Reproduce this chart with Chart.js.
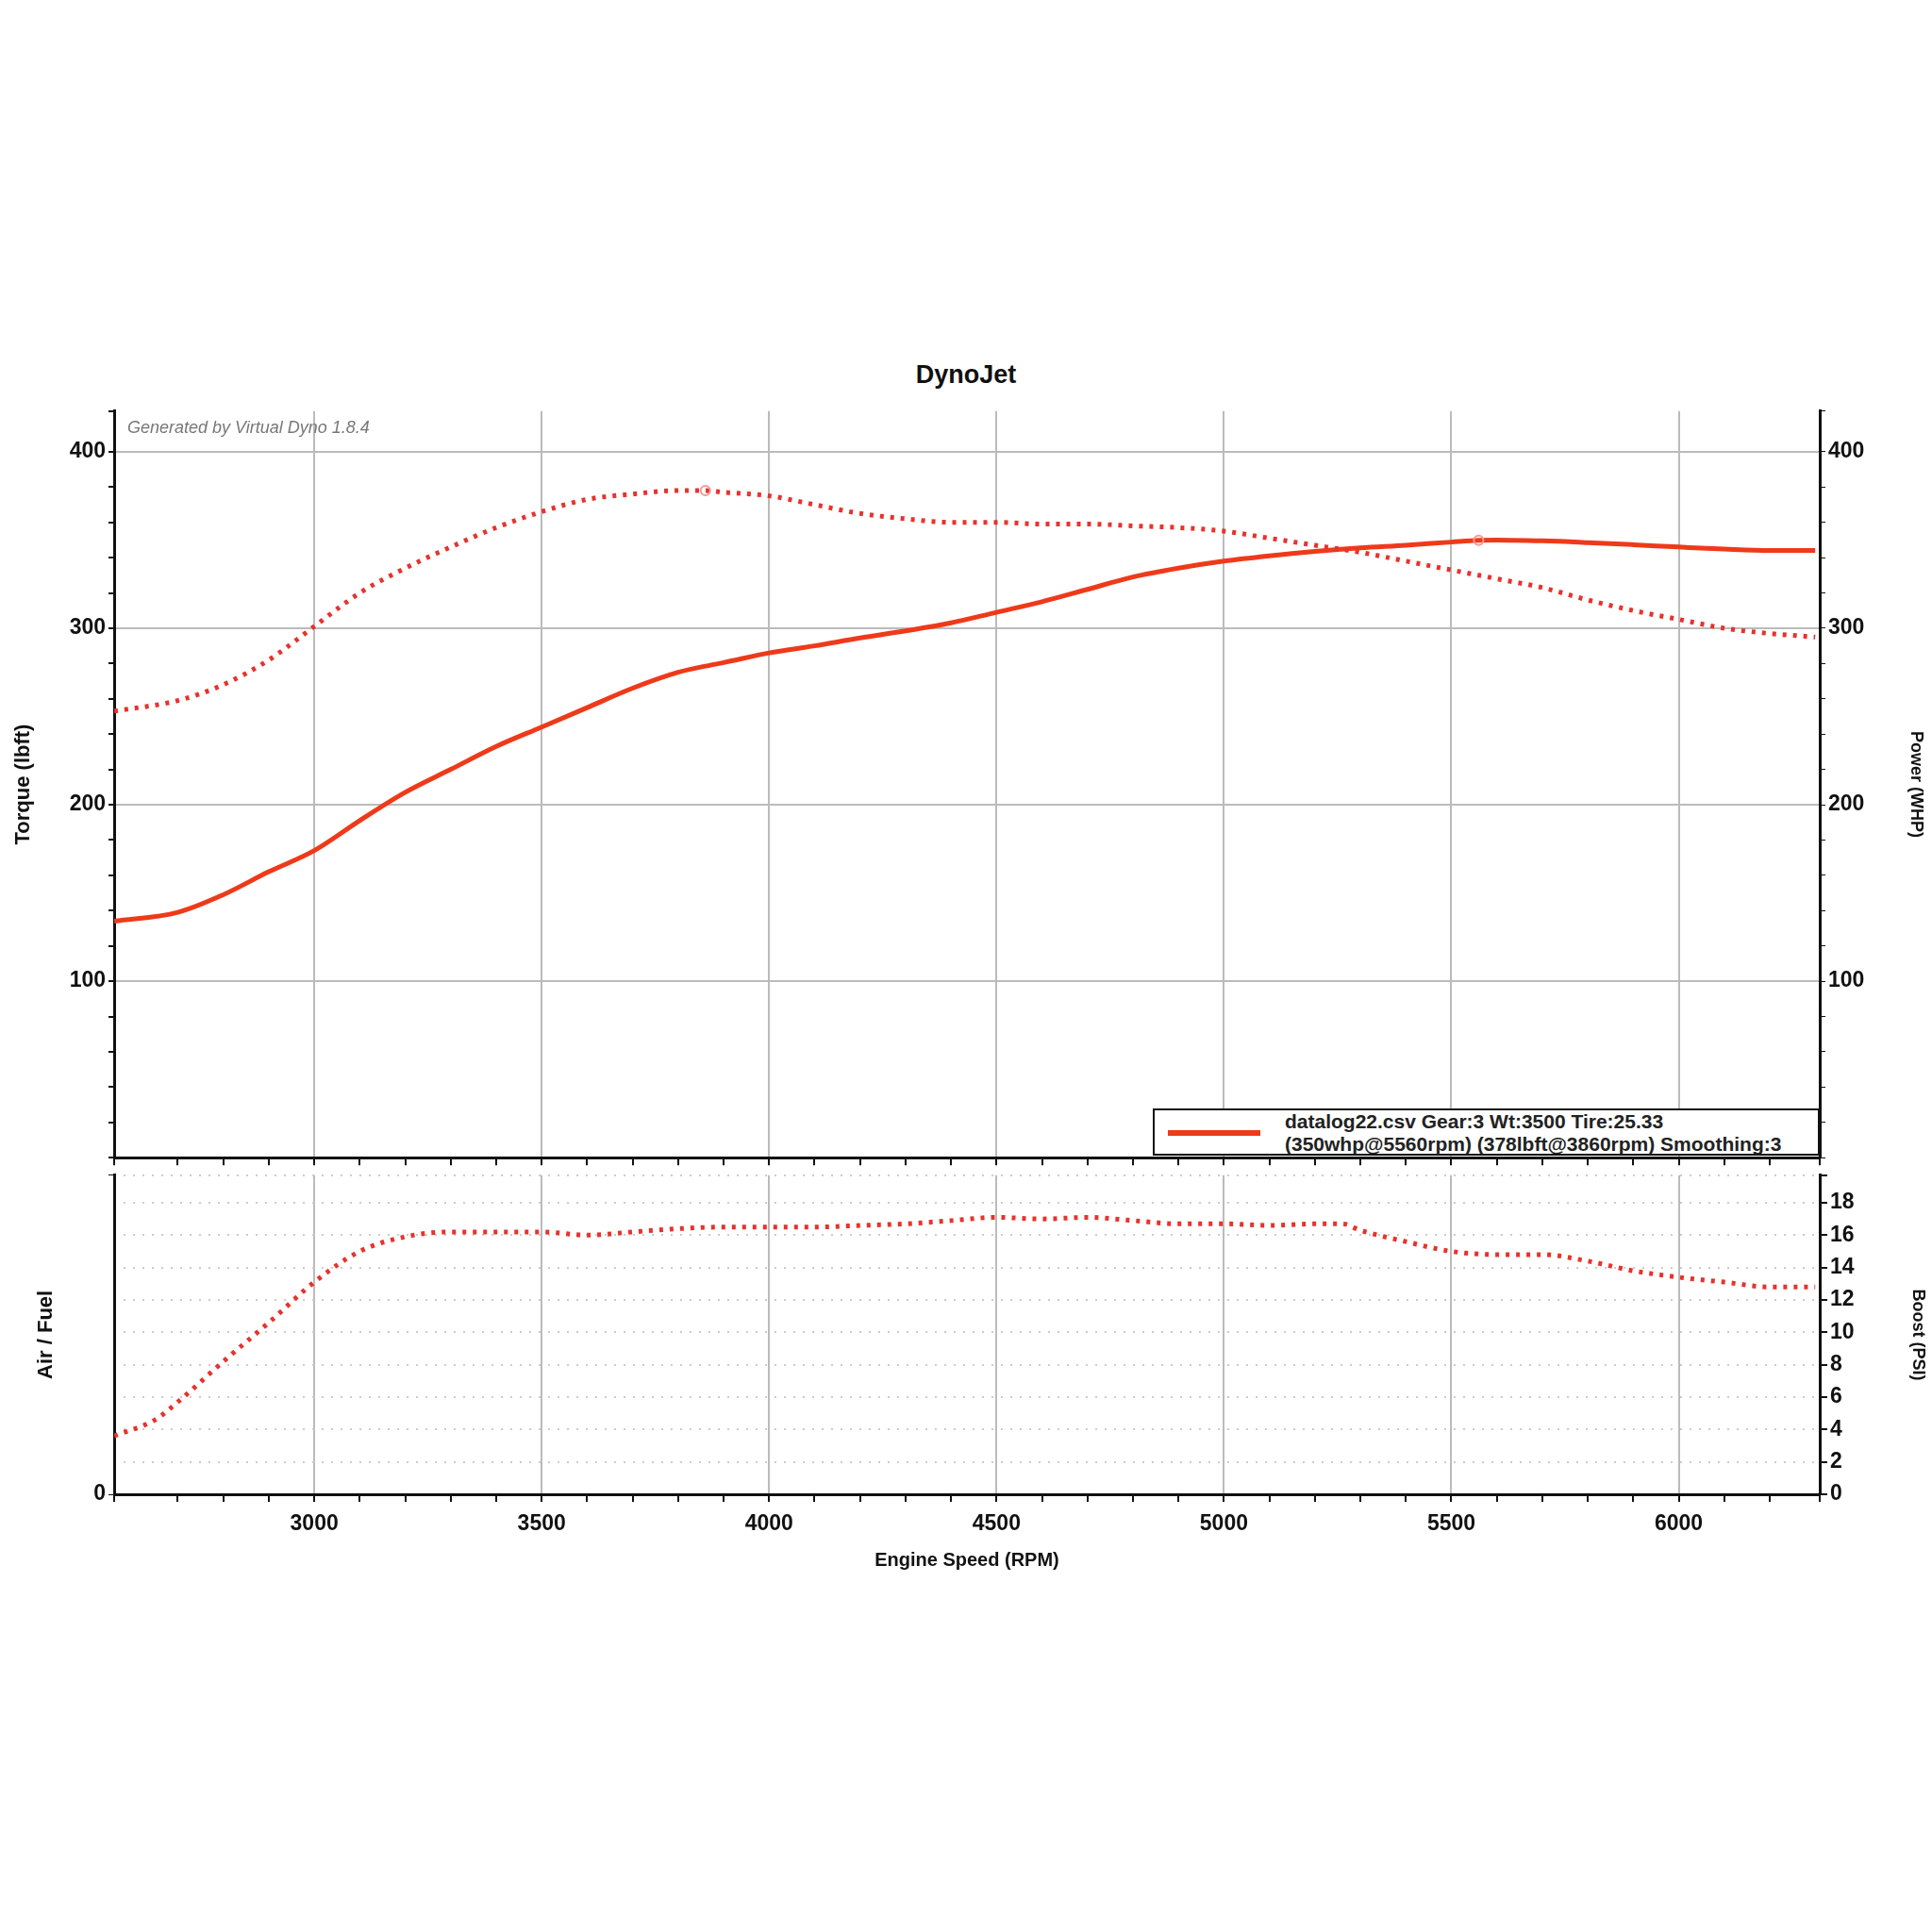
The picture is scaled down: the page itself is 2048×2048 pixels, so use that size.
<!DOCTYPE html>
<html><head><meta charset="utf-8">
<script src="https://cdn.jsdelivr.net/npm/chart.js@4.4.0/dist/chart.umd.min.js"></script>
<style>
body{margin:0;background:#fff;width:2048px;height:2048px;position:relative;font-family:"Liberation Sans",Arial,sans-serif;overflow:hidden}
canvas{position:absolute}
#title{position:absolute;top:382px;left:0;width:2048px;text-align:center;font-weight:bold;font-size:27px;color:#111}
#gen{position:absolute;left:135px;top:443px;font-style:italic;font-size:18px;color:#777}
#leg{position:absolute;left:1222px;top:1175px;width:707px;height:50px;border:2px solid #111;background:#fff;box-sizing:border-box}
#leg .ln{position:absolute;left:14px;top:21px;width:98px;height:6px;background:#ee3a1a}
#leg .tx{position:absolute;left:138px;top:0px;font-weight:bold;font-size:21px;line-height:24px;color:#222;white-space:nowrap}
</style></head><body>
<div id="title">DynoJet</div>
<canvas id="top" width="2048" height="825" style="left:0;top:419px;width:2048px;height:825px"></canvas>
<canvas id="bot" width="2048" height="441" style="left:0;top:1229px;width:2048px;height:441px"></canvas>
<div id="gen">Generated by Virtual Dyno 1.8.4</div>
<div id="leg"><div class="ln"></div><div class="tx">datalog22.csv Gear:3 Wt:3500 Tire:25.33<br>(350whp@5560rpm) (378lbft@3860rpm) Smoothing:3</div></div>
<script>
const rpm = [2560,2700,2800,2900,3000,3100,3200,3300,3400,3500,3600,3700,3800,3860,3900,4000,4100,4200,4300,4400,4500,4600,4700,4800,4900,5000,5100,5200,5300,5400,5500,5560,5600,5700,5800,5900,6000,6100,6200,6300];
const torque = [253,259,268,282,301,320,334,346,357,366,373,376,378,378,377,375,370,365,362,360,360,359,359,358,357,355,351,347,343,338,333,330,328,323,316,310,305,300,297,295];
const power = [134,139,149,162,174,191,207,220,233,244,255,266,275,278.5,280.5,286,290,294.5,298.5,303,309,315,322,329,334,338,341,343.5,345.5,347,348.8,349.8,350,349.5,348.5,347.3,346,344.8,344,344];
const boostRpm = [2560,2650,2700,2800,2900,3000,3100,3200,3300,3400,3500,3600,3700,3800,3900,4000,4100,4200,4300,4400,4500,4600,4700,4800,4900,5000,5100,5200,5260,5300,5400,5500,5600,5700,5800,5900,6000,6100,6200,6300];
const boost = [3.6,4.6,5.7,8.2,10.6,13.1,15.0,15.9,16.2,16.2,16.2,16.0,16.2,16.4,16.5,16.5,16.5,16.6,16.7,16.9,17.1,17.0,17.1,16.9,16.7,16.7,16.6,16.7,16.7,16.3,15.6,15.0,14.8,14.8,14.4,13.8,13.4,13.1,12.8,12.8];
const xTicks = [3000,3500,4000,4500,5000,5500,6000];
const peakTorqueRpm = 3860, peakPowerRpm = 5560;

const pts = (xs, ys) => xs.map((x,i)=>({x, y: ys[i]}));
const DPR = 1;
const tickFont = {family:'"Liberation Sans", Arial', size:23, weight:'bold'};
const xScaleBase = {
  type:'linear', min:2560, max:6310,
  ticks:{stepSize:100, autoSkip:false, maxRotation:0, padding:10, color:'#111', font:tickFont,
    callback:v=> xTicks.includes(v)? String(v):''},
  grid:{color:c=> xTicks.includes(c.tick && c.tick.value)?'#bbb':'rgba(0,0,0,0)', lineWidth:2, tickColor:'#111', tickLength:8, drawOnChartArea:true},
  border:{color:'#111', width:3}
};
function peakRadius(target){ return c => (c.raw && c.raw.x===target) ? 5 : 0; }

new Chart(document.getElementById('top'), {
  type:'line',
  data:{datasets:[
    {data:pts(rpm,torque), yAxisID:'yL', borderColor:'#e8322c', borderWidth:5, borderDash:[4,7], borderCapStyle:'butt', cubicInterpolationMode:'monotone',
      pointRadius:peakRadius(peakTorqueRpm), pointBorderColor:'#f29a9a', pointBackgroundColor:'rgba(0,0,0,0)', pointBorderWidth:2},
    {data:pts(rpm,power), yAxisID:'yR', borderColor:'#ee3a1a', borderWidth:5, cubicInterpolationMode:'monotone',
      pointRadius:peakRadius(peakPowerRpm), pointBorderColor:'#f29a9a', pointBackgroundColor:'rgba(0,0,0,0)', pointBorderWidth:2}
  ]},
  options:{responsive:false, animation:false, devicePixelRatio:DPR,
    layout:{padding:0},
    plugins:{legend:{display:false}, tooltip:{enabled:false}},
    scales:{
      x:{...xScaleBase, ticks:{...xScaleBase.ticks, display:false}, afterFit:s=>{s.height=12;}},
      yL:{position:'left', min:0, max:423,
        ticks:{stepSize:20, autoSkip:false, color:'#111', font:tickFont, callback:v=> (v%100===0 && v>0)? String(v):''},
        grid:{color:c=> (c.tick && c.tick.value%100===0 && c.tick.value>0)?'#bbb':'rgba(0,0,0,0)', lineWidth:2, tickColor:'#111', tickLength:6},
        border:{color:'#111', width:3},
        title:{display:true, text:'Torque (lbft)', color:'#111', font:{family:'"Liberation Sans", Arial', size:22, weight:'bold'}, padding:{top:12,bottom:4}},
        afterFit:s=>{s.width=121;}},
      yR:{position:'right', min:0, max:423,
        ticks:{stepSize:20, autoSkip:false, color:'#111', font:tickFont, callback:v=> (v%100===0 && v>0)? String(v):''},
        grid:{drawOnChartArea:false, tickColor:'#111', tickLength:6},
        border:{color:'#111', width:3},
        title:{display:true, text:'Power (WHP)', color:'#111', font:{family:'"Liberation Sans", Arial', size:18, weight:'bold'}, padding:{top:6,bottom:20}},
        afterFit:s=>{s.width=119;}}
    }
  }
});

new Chart(document.getElementById('bot'), {
  type:'line',
  data:{datasets:[
    {data:pts(boostRpm,boost), yAxisID:'yR', borderColor:'#e8322c', borderWidth:5, borderDash:[4,7], cubicInterpolationMode:'monotone', pointRadius:0}
  ]},
  options:{responsive:false, animation:false, devicePixelRatio:DPR, layout:{padding:0},
    plugins:{legend:{display:false}, tooltip:{enabled:false}},
    scales:{
      x:{...xScaleBase,
        title:{display:true, text:'Engine Speed (RPM)', color:'#111', font:{family:'"Liberation Sans", Arial', size:20, weight:'bold'}, padding:{top:4}},
        afterFit:s=>{s.height=86;}},
      yL:{position:'left', min:0, max:19.7,
        ticks:{stepSize:20, color:'#111', font:tickFont, callback:v=> v===0?'0':''},
        grid:{drawOnChartArea:false, tickColor:'#111', tickLength:6},
        border:{color:'#111', width:3},
        title:{display:true, text:'Air / Fuel', color:'#111', font:{family:'"Liberation Sans", Arial', size:22, weight:'bold'}, padding:{top:36,bottom:20}},
        afterFit:s=>{s.width=121;}},
      yR:{position:'right', min:0, max:19.7,
        ticks:{stepSize:2, autoSkip:false, color:'#111', font:tickFont, callback:v=> v<=18? String(v):''},
        grid:{color:'#ccc', lineWidth:2, tickColor:'#111', tickLength:8},
        border:{color:'#111', width:3, dash:[2,8]},
        title:{display:true, text:'Boost (PSI)', color:'#111', font:{family:'"Liberation Sans", Arial', size:18, weight:'bold'}, padding:{top:4,bottom:24}},
        afterFit:s=>{s.width=119;}}
    }
  }
});
</script>
</body></html>
